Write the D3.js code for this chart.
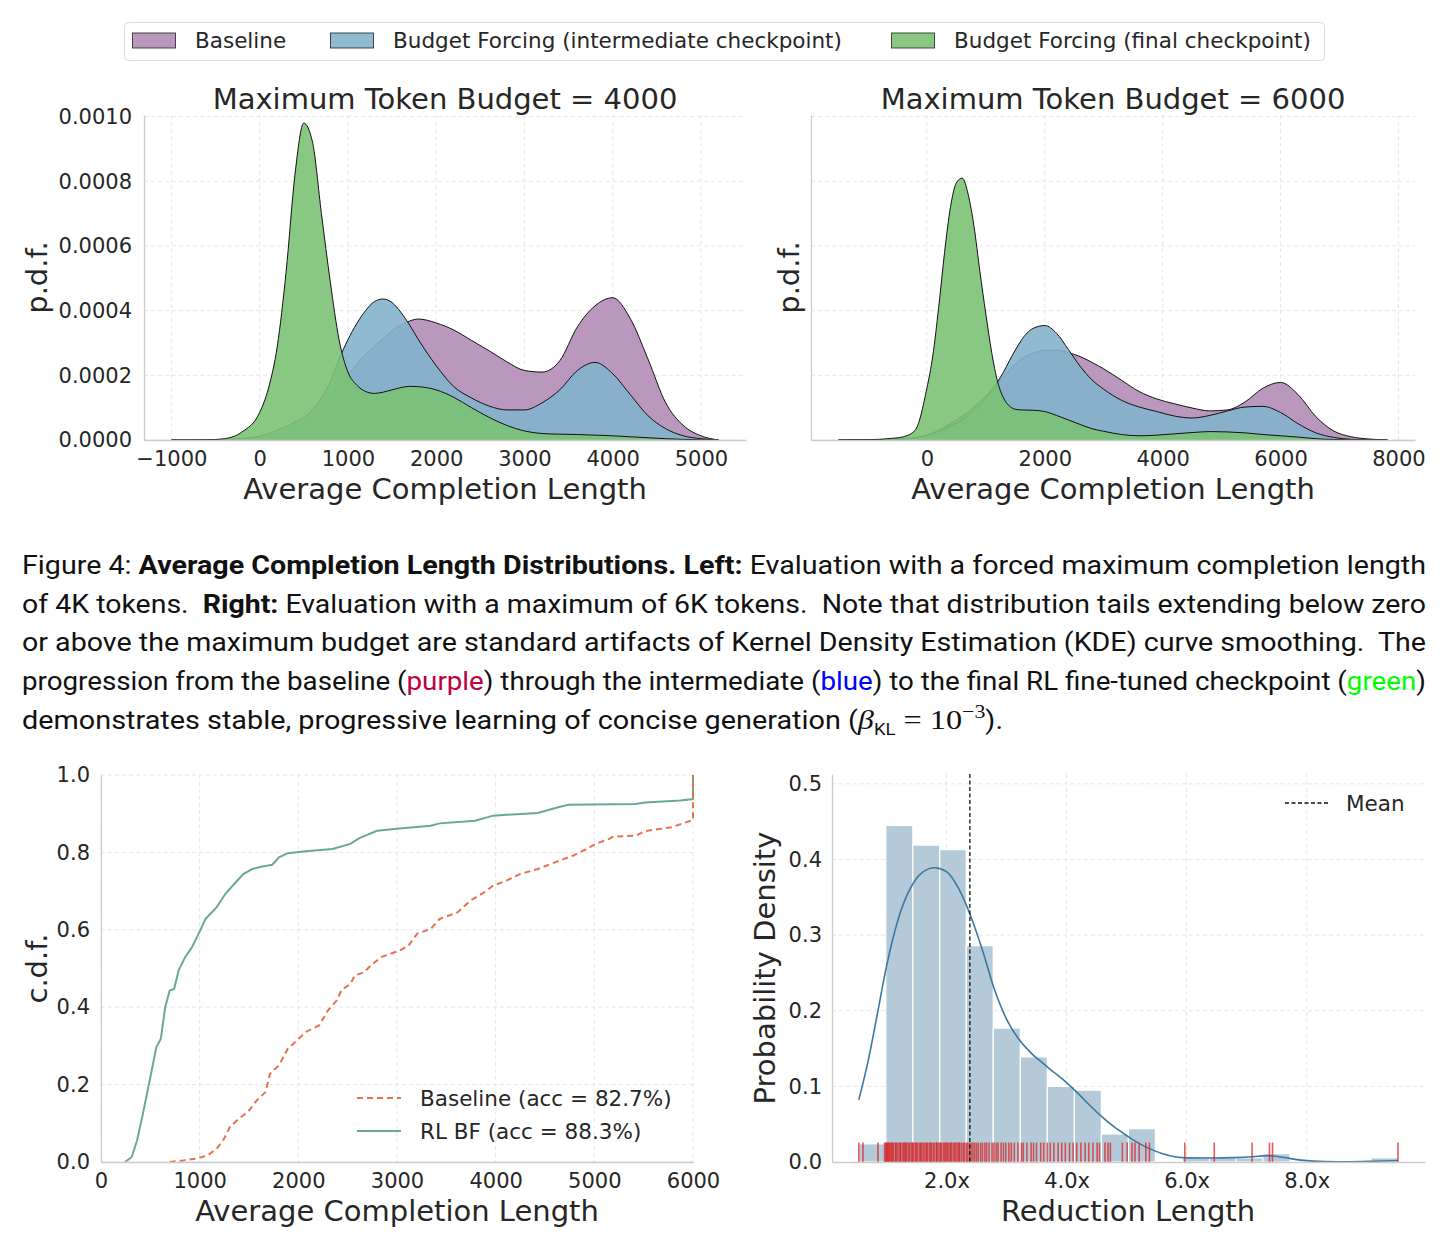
<!DOCTYPE html>
<html>
<head>
<meta charset="utf-8">
<script src="https://cdn.jsdelivr.net/npm/d3@7"></script>
<style>
  body { margin: 0; background: #fff; }
  text { white-space: pre; }
</style>
</head>
<body>
<script>
// ---- series names / colours ----
var seriesNames = ["Baseline", "Budget Forcing (intermediate checkpoint)", "Budget Forcing (final checkpoint)"];
var seriesColors = ["#b38db7", "#83b2cb", "#7bc274"];

// ---- KDE, max budget 4000 (density in units of 1e-4) ----
var kdeX4000 = [-1000, -600, -400, -200, 0, 100, 200, 300, 400, 500, 600, 700, 800, 900, 1000, 1100, 1200, 1300, 1400, 1500, 1600, 1700, 1800,
  2000, 2200, 2400, 2600, 2800, 3000, 3200, 3400, 3600, 3800, 4000, 4200, 4400, 4600, 4800, 5000, 5200];
var baseline4000 = [0, 0, 0.01, 0.03, 0.08, 0.13, 0.2, 0.3, 0.45, 0.65, 0.85, 1.1, 1.4, 1.7, 2.0, 2.35, 2.65, 2.9, 3.15, 3.38, 3.55, 3.68, 3.74,
  3.62, 3.4, 3.08, 2.76, 2.42, 2.15, 2.1, 2.45, 3.5, 4.15, 4.4, 3.75, 2.5, 1.15, 0.45, 0.13, 0];
var intermediate4000 = [0, 0, 0.01, 0.05, 0.12, 0.2, 0.3, 0.42, 0.55, 0.7, 0.95, 1.3, 1.8, 2.5, 3.1, 3.6, 4.0, 4.28, 4.36, 4.25, 3.95, 3.55, 3.1,
  2.3, 1.65, 1.3, 1.05, 0.93, 0.93, 1.15, 1.55, 2.15, 2.4, 2.05, 1.4, 0.75, 0.35, 0.13, 0.04, 0];
var final4000 = [0, 0.005, 0.04, 0.25, 0.85, 1.6, 2.9, 5.2, 8.2, 9.8, 9.2, 7.0, 4.9, 3.1, 2.1, 1.7, 1.5, 1.44, 1.48, 1.55, 1.62, 1.66, 1.65,
  1.55, 1.32, 1.0, 0.7, 0.45, 0.28, 0.2, 0.18, 0.17, 0.15, 0.13, 0.1, 0.07, 0.04, 0.02, 0.005, 0];

// ---- KDE, max budget 6000 (density in units of 1e-4) ----
var kdeX6000 = [-1500, -1000, -600, -400, -200, 0, 100, 200, 300, 400, 500, 600, 700, 800, 900, 1000, 1100, 1200, 1300, 1400, 1500, 1600,
  1800, 2000, 2200, 2400, 2600, 2800, 3000, 3300, 3600, 3900, 4200, 4500, 4800, 5100, 5400, 5700, 6000, 6300, 6600, 6900, 7200, 7500, 7815];
var baseline6000 = [0, 0.005, 0.02, 0.04, 0.08, 0.15, 0.22, 0.3, 0.4, 0.5, 0.62, 0.74, 0.87, 1.02, 1.18, 1.36, 1.55, 1.75, 1.95, 2.15, 2.35, 2.5,
  2.68, 2.77, 2.78, 2.7, 2.58, 2.4, 2.2, 1.85, 1.5, 1.27, 1.12, 0.99, 0.9, 0.93, 1.18, 1.6, 1.78, 1.4, 0.72, 0.28, 0.1, 0.03, 0];
var intermediate6000 = [0, 0, 0.01, 0.03, 0.07, 0.14, 0.2, 0.27, 0.35, 0.43, 0.52, 0.63, 0.76, 0.9, 1.07, 1.28, 1.52, 1.8, 2.1, 2.45, 2.78, 3.08,
  3.45, 3.54, 3.3, 2.8, 2.28, 1.86, 1.57, 1.23, 1.02, 0.88, 0.74, 0.68, 0.76, 0.9, 1.02, 1.04, 0.85, 0.5, 0.22, 0.08, 0.02, 0, 0];
var final6000 = [0, 0.01, 0.05, 0.1, 0.3, 1.6, 2.6, 4.1, 5.8, 7.2, 7.95, 8.1, 7.6, 6.6, 5.2, 3.9, 2.7, 1.8, 1.3, 1.05, 0.95, 0.93,
  0.92, 0.88, 0.76, 0.62, 0.48, 0.35, 0.27, 0.17, 0.13, 0.15, 0.19, 0.23, 0.26, 0.25, 0.22, 0.17, 0.13, 0.09, 0.04, 0.015, 0.005, 0, 0];

var pdfTicks = [0, 2, 4, 6, 8, 10];
var xTicks4000 = [-1000, 0, 1000, 2000, 3000, 4000, 5000];
var xTicks6000 = [0, 2000, 4000, 6000, 8000];

// ---- CDF ----
var cdfLenBaseline = [696, 832, 967, 1081, 1171, 1239, 1306, 1397, 1487, 1578, 1668, 1713, 1804, 1894, 1985, 2075, 2211, 2301, 2391, 2437,
  2527, 2572, 2663, 2753, 2844, 3024, 3115, 3205, 3341, 3432, 3613, 3748, 3884, 3974, 4110, 4245, 4426, 4607, 4788, 4923, 5014, 5150,
  5195, 5421, 5512, 5783, 6000, 6000];
var cdfProbBaseline = [0, 0.004, 0.009, 0.017, 0.034, 0.056, 0.09, 0.112, 0.129, 0.159, 0.181, 0.228, 0.25, 0.293, 0.314, 0.336, 0.353, 0.392,
  0.418, 0.444, 0.46, 0.482, 0.49, 0.512, 0.53, 0.546, 0.559, 0.59, 0.602, 0.628, 0.645, 0.676, 0.697, 0.714, 0.727, 0.744, 0.757, 0.775,
  0.792, 0.809, 0.822, 0.835, 0.841, 0.843, 0.855, 0.865, 0.884, 1.0];
var cdfLenRL = [244, 312, 366, 425, 493, 561, 606, 651, 696, 741, 787, 854, 922, 990, 1058, 1171, 1261, 1352, 1442, 1533, 1623, 1736, 1804,
  1894, 2075, 2346, 2527, 2618, 2798, 3024, 3341, 3432, 3793, 3974, 4426, 4652, 4742, 5421, 5512, 5873, 6000, 6000];
var cdfProbRL = [0, 0.013, 0.056, 0.125, 0.21, 0.297, 0.318, 0.4, 0.443, 0.447, 0.495, 0.53, 0.555, 0.59, 0.628, 0.658, 0.693, 0.719, 0.744,
  0.757, 0.763, 0.768, 0.787, 0.798, 0.803, 0.809, 0.822, 0.837, 0.856, 0.862, 0.869, 0.875, 0.882, 0.895, 0.902, 0.918, 0.923, 0.925,
  0.929, 0.934, 0.938, 1.0];
var cdfLabels = ["Baseline (acc = 82.7%)", "RL BF (acc = 88.3%)"];
var cdfColors = ["#e8704e", "#6aaa8c"];
var cdfXTicks = [0, 1000, 2000, 3000, 4000, 5000, 6000];
var cdfYTicks = [0, 0.2, 0.4, 0.6, 0.8, 1.0];

// ---- reduction histogram ----
var histEdges = [0.54, 0.99, 1.44, 1.89, 2.33, 2.78, 3.23, 3.68, 4.13, 4.58, 5.03, 5.48, 5.93, 6.38, 6.82, 7.27, 7.72, 8.17, 8.62, 9.07, 9.52];
var histDensity = [0.024, 0.445, 0.419, 0.413, 0.286, 0.177, 0.139, 0.100, 0.095, 0.037, 0.044, 0, 0.0055, 0.0055, 0.0055, 0.011, 0, 0, 0, 0.0055];
var kdeRedX = [0.54, 0.7, 0.85, 1.0, 1.2, 1.4, 1.6, 1.8, 2.0, 2.2, 2.4, 2.6, 2.8, 3.0, 3.2, 3.4, 3.6, 3.8, 4.0, 4.2, 4.4, 4.6, 4.8, 5.0,
  5.2, 5.4, 5.6, 5.8, 6.0, 6.4, 6.8, 7.1, 7.35, 7.6, 7.9, 8.3, 8.7, 9.1, 9.52];
var kdeRedY = [0.082, 0.135, 0.196, 0.258, 0.322, 0.362, 0.383, 0.389, 0.384, 0.362, 0.326, 0.28, 0.228, 0.189, 0.163, 0.145, 0.131, 0.118,
  0.105, 0.09, 0.074, 0.059, 0.046, 0.035, 0.025, 0.017, 0.011, 0.007, 0.0055, 0.0052, 0.0058, 0.007, 0.0084, 0.0062, 0.0025, 0.0005,
  0.0004, 0.001, 0.002];
var reductions = [0.54, 0.61, 0.86, 0.97,
  0.99, 1.00, 1.01, 1.02, 1.04, 1.05, 1.07, 1.09, 1.10, 1.12, 1.15, 1.16, 1.18, 1.21, 1.23, 1.24, 1.27, 1.29, 1.31, 1.32, 1.34, 1.37, 1.38,
  1.41, 1.43, 1.44, 1.46, 1.49, 1.50, 1.52, 1.55, 1.57, 1.58, 1.61, 1.63, 1.66, 1.67, 1.69, 1.72, 1.74, 1.75, 1.78, 1.80, 1.83, 1.84, 1.86,
  1.89, 1.90, 1.92, 1.95, 1.97, 1.99, 2.01, 2.03, 2.06, 2.07, 2.09, 2.12, 2.14, 2.16, 2.19, 2.21, 2.22, 2.25, 2.28, 2.30, 2.33, 2.35,
  2.38, 2.41, 2.44, 2.47, 2.50, 2.53, 2.57, 2.60, 2.64, 2.67, 2.71, 2.76, 2.79, 2.83, 2.86, 2.91, 2.95, 2.99, 3.04, 3.08, 3.13, 3.19,
  3.25, 3.28, 3.34, 3.41, 3.45, 3.50, 3.57, 3.62, 3.68, 3.73, 3.79, 3.86, 3.92, 3.98, 4.05, 4.11, 4.17, 4.24, 4.31, 4.37, 4.44, 4.51, 4.55,
  4.64, 4.69, 4.73, 4.93, 5.01, 5.09, 5.14, 5.21, 5.32, 5.38, 5.97, 6.46, 7.09, 7.38, 7.43, 9.52];
var meanReduction = 2.39;
var redXTicks = [2, 4, 6, 8];
var redYTicks = [0, 0.1, 0.2, 0.3, 0.4, 0.5];

var FONT = "DejaVu Sans, sans-serif";
var INK = "#262626";
var FILL_ALPHA = 0.9;

var svg = d3.select("body").append("svg")
  .attr("width", 1448).attr("height", 1248)
  .style("background", "#fff");

//draws light dashed grid lines
function drawGrid(g, x, y, xt, yt, w, h) {
  g.append("g").selectAll("line").data(xt).join("line")
    .attr("x1", d => x(d)).attr("x2", d => x(d)).attr("y1", 0).attr("y2", h)
    .attr("stroke", "#e6e6e6").attr("stroke-width", 1).attr("stroke-dasharray", "4,3");
  g.append("g").selectAll("line").data(yt).join("line")
    .attr("x1", 0).attr("x2", w).attr("y1", d => y(d)).attr("y2", d => y(d))
    .attr("stroke", "#e6e6e6").attr("stroke-width", 1).attr("stroke-dasharray", "4,3");
}

//styles an axis group like the seaborn whitegrid look
function styleAxis(sel) {
  sel.attr("font-family", FONT).attr("font-size", 21);
  sel.selectAll("text").attr("fill", INK);
  sel.selectAll(".tick line").remove();
  sel.select(".domain").attr("stroke", "#cccccc").attr("stroke-width", 1.3);
}

function addText(x, y, str, size, anchor, rotate) {
  var t = svg.append("text")
    .attr("font-family", FONT).attr("font-size", size).attr("fill", INK)
    .attr("text-anchor", anchor || "middle").text(str);
  if (rotate) t.attr("transform", "translate(" + x + "," + y + ") rotate(-90)");
  else t.attr("x", x).attr("y", y);
  return t;
}

//one KDE panel (top row)
function kdePanel(box, xDomain, xTicks, xs, ys, title, showYTicks, ylabelX) {
  var w = box.right - box.left, h = box.bottom - box.top;
  var g = svg.append("g").attr("transform", "translate(" + box.left + "," + box.top + ")");
  var x = d3.scaleLinear().domain(xDomain).range([0, w]);
  var y = d3.scaleLinear().domain([0, 10.05]).range([h, 0]);

  drawGrid(g, x, y, xTicks, pdfTicks, w, h);

  var area = d3.area().x(d => x(d[0])).y0(y(0)).y1(d => y(d[1])).curve(d3.curveMonotoneX);
  var line = d3.line().x(d => x(d[0])).y(d => y(d[1])).curve(d3.curveMonotoneX);
  ys.forEach(function (vals, i) {
    var pts = xs.map((v, j) => [v, vals[j]]);
    g.append("path").attr("d", area(pts)).attr("fill", seriesColors[i]).attr("fill-opacity", FILL_ALPHA);
    g.append("path").attr("d", line(pts)).attr("fill", "none").attr("stroke", "#111").attr("stroke-width", 1);
  });

  g.append("g").attr("transform", "translate(0," + h + ")")
    .call(d3.axisBottom(x).tickValues(xTicks).tickSize(0).tickPadding(11).tickSizeOuter(0).tickFormat(d3.format("d")))
    .call(styleAxis);
  var yAxis = d3.axisLeft(y).tickValues(pdfTicks).tickSize(0).tickPadding(12).tickSizeOuter(0)
    .tickFormat(d => showYTicks ? (d * 1e-4).toFixed(4) : "");
  g.append("g").call(yAxis).call(styleAxis);

  addText((box.left + box.right) / 2, 109, title, 29);
  addText((box.left + box.right) / 2, 499, "Average Completion Length", 29);
  addText(ylabelX, (box.top + box.bottom) / 2, "p.d.f.", 29, "middle", true);
}

// ---- top legend ----
svg.append("rect").attr("x", 124.5).attr("y", 22.5).attr("width", 1200).attr("height", 38).attr("rx", 4)
  .attr("fill", "#fff").attr("stroke", "#d9d9d9");
var legendX = [132, 330, 891];
seriesNames.forEach(function (name, i) {
  svg.append("rect").attr("x", legendX[i] + 0.5).attr("y", 33).attr("width", 43).attr("height", 15)
    .attr("fill", seriesColors[i]).attr("fill-opacity", FILL_ALPHA).attr("stroke", "#333").attr("stroke-width", 0.9);
  addText(legendX[i] + 63, 48, name, 21.5, "start");
});

kdePanel({ left: 144, right: 746, top: 115, bottom: 440 }, [-1310, 5510], xTicks4000, kdeX4000,
  [baseline4000, intermediate4000, final4000], "Maximum Token Budget = 4000", true, 47);
kdePanel({ left: 811, right: 1415, top: 115, bottom: 440 }, [-1966, 8281], xTicks6000, kdeX6000,
  [baseline6000, intermediate6000, final6000], "Maximum Token Budget = 6000", false, 799);

// ---- caption ----
function captionLine(y, parts, len) {
  var t = svg.append("text").attr("x", 22).attr("y", y)
    .attr("font-family", "Roboto, sans-serif").attr("font-size", 25).attr("fill", "#111");
  parts.forEach(function (p) {
    var s = t.append("tspan").text(p.t);
    if (p.b) s.attr("font-weight", "bold");
    if (p.c) s.attr("fill", p.c);
    if (p.f) s.attr("font-family", p.f);
    if (p.i) s.attr("font-style", "italic");
    if (p.s) s.attr("font-size", p.s);
    if (p.dy) s.attr("dy", p.dy);
  });
  if (len) t.attr("textLength", len).attr("lengthAdjust", "spacingAndGlyphs");
}
captionLine(574, [{ t: "Figure 4: " }, { t: "Average Completion Length Distributions. Left:", b: true },
  { t: " Evaluation with a forced maximum completion length" }], 1404);
captionLine(613, [{ t: "of 4K tokens.  " }, { t: "Right:", b: true },
  { t: " Evaluation with a maximum of 6K tokens.  Note that distribution tails extending below zero" }], 1404);
captionLine(651, [{ t: "or above the maximum budget are standard artifacts of Kernel Density Estimation (KDE) curve smoothing.  The" }], 1404);
captionLine(690, [{ t: "progression from the baseline (" }, { t: "purple", c: "#bf0040" }, { t: ") through the intermediate (" },
  { t: "blue", c: "#0000ff" }, { t: ") to the final RL fine-tuned checkpoint (" }, { t: "green", c: "#00ff00" }, { t: ")" }], 1404);
captionLine(729, [{ t: "demonstrates stable, progressive learning of concise generation (" },
  { t: "β", f: "Liberation Serif, serif", i: true, s: 28 }, { t: "KL", s: 16, dy: 6 },
  { t: " = 10", f: "Liberation Serif, serif", s: 28, dy: -6 }, { t: "−3", f: "Liberation Serif, serif", s: 19, dy: -11 },
  { t: ").", dy: 11 }], 981);

// ---- CDF panel ----
(function () {
  var box = { left: 101, right: 693, top: 775, bottom: 1162 };
  var w = box.right - box.left, h = box.bottom - box.top;
  var g = svg.append("g").attr("transform", "translate(" + box.left + "," + box.top + ")");
  var x = d3.scaleLinear().domain([0, 6000]).range([0, w]);
  var y = d3.scaleLinear().domain([0, 1]).range([h, 0]);
  drawGrid(g, x, y, cdfXTicks, cdfYTicks, w, h);

  var line = d3.line().x(d => x(d[0])).y(d => y(d[1]));
  var lens = [cdfLenBaseline, cdfLenRL], probs = [cdfProbBaseline, cdfProbRL];
  [1, 0].forEach(function (i) {
    var pts = lens[i].map((v, j) => [v, probs[i][j]]);
    g.append("path").attr("d", line(pts)).attr("fill", "none").attr("stroke", cdfColors[i])
      .attr("stroke-width", 2).attr("stroke-dasharray", i === 0 ? "6,4" : null);
  });

  g.append("g").attr("transform", "translate(0," + h + ")")
    .call(d3.axisBottom(x).tickValues(cdfXTicks).tickSize(0).tickPadding(11).tickSizeOuter(0).tickFormat(d3.format("d")))
    .call(styleAxis);
  g.append("g").call(d3.axisLeft(y).tickValues(cdfYTicks).tickSize(0).tickPadding(11).tickSizeOuter(0).tickFormat(d3.format(".1f")))
    .call(styleAxis);

  cdfLabels.forEach(function (lab, i) {
    var ly = 1098 + i * 33;
    svg.append("line").attr("x1", 357).attr("x2", 401).attr("y1", ly).attr("y2", ly)
      .attr("stroke", cdfColors[i]).attr("stroke-width", 2).attr("stroke-dasharray", i === 0 ? "6,4" : null);
    addText(420, ly + 8, lab, 21.5, "start");
  });
  addText(397, 1221, "Average Completion Length", 29);
  addText(47, (box.top + box.bottom) / 2, "c.d.f.", 29, "middle", true);
})();

// ---- reduction histogram panel ----
(function () {
  var box = { left: 832, right: 1425, top: 774, bottom: 1162 };
  var w = box.right - box.left, h = box.bottom - box.top;
  var g = svg.append("g").attr("transform", "translate(" + box.left + "," + box.top + ")");
  var x = d3.scaleLinear().domain([0.094, 9.97]).range([0, w]);
  var y = d3.scaleLinear().domain([0, 0.513]).range([h, 0]);
  drawGrid(g, x, y, redXTicks, redYTicks.slice(1), w, h);

  g.append("g").selectAll("rect").data(histDensity).join("rect")
    .attr("x", (d, i) => x(histEdges[i])).attr("width", (d, i) => x(histEdges[i + 1]) - x(histEdges[i]))
    .attr("y", d => y(d)).attr("height", d => y(0) - y(d))
    .attr("fill", "#b4cad8").attr("stroke", "#fff").attr("stroke-width", 1.2);

  var kdePts = kdeRedX.map((v, j) => [v, kdeRedY[j]]);
  g.append("path").attr("d", d3.line().x(d => x(d[0])).y(d => y(d[1])).curve(d3.curveMonotoneX)(kdePts))
    .attr("fill", "none").attr("stroke", "#3b78a0").attr("stroke-width", 1.6);

  g.append("g").selectAll("line").data(reductions).join("line")
    .attr("x1", d => x(d)).attr("x2", d => x(d)).attr("y1", h).attr("y2", h - 0.05 * h)
    .attr("stroke", "#d62728").attr("stroke-opacity", 0.75).attr("stroke-width", 1.6);

  g.append("line").attr("x1", x(meanReduction)).attr("x2", x(meanReduction)).attr("y1", 0).attr("y2", h)
    .attr("stroke", "#111").attr("stroke-width", 1.3).attr("stroke-dasharray", "4,2.5");

  g.append("g").attr("transform", "translate(0," + h + ")")
    .call(d3.axisBottom(x).tickValues(redXTicks).tickSize(0).tickPadding(11).tickSizeOuter(0).tickFormat(d => d.toFixed(1) + "x"))
    .call(styleAxis);
  g.append("g").call(d3.axisLeft(y).tickValues(redYTicks).tickSize(0).tickPadding(10).tickSizeOuter(0).tickFormat(d3.format(".1f")))
    .call(styleAxis);

  svg.append("line").attr("x1", 1285).attr("x2", 1328).attr("y1", 803).attr("y2", 803)
    .attr("stroke", "#111").attr("stroke-width", 1.3).attr("stroke-dasharray", "4,2.5");
  addText(1346, 811, "Mean", 21.5, "start");
  addText(1128, 1221, "Reduction Length", 29);
  addText(775, (box.top + box.bottom) / 2, "Probability Density", 29, "middle", true);
})();
</script>
</body>
</html>
